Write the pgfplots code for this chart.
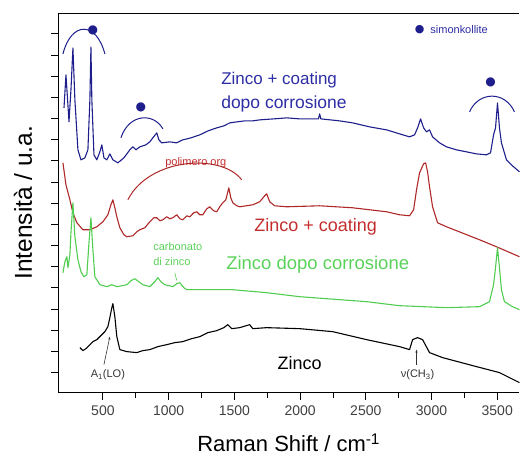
\documentclass[border=0pt]{standalone}
\usepackage{fontspec}
\setmainfont{Liberation Sans}
\newfontfamily\dejavu{DejaVu Sans}
\usepackage{pgfplots}
\pgfplotsset{compat=1.18}
\usetikzlibrary{arrows.meta}
\definecolor{cblue}{RGB}{30,30,140}
\definecolor{tblue}{RGB}{45,45,165}
\definecolor{cred}{RGB}{175,40,40}
\definecolor{tred}{RGB}{195,45,45}
\definecolor{cgreen}{RGB}{80,205,80}
\definecolor{tgreen}{RGB}{90,210,90}
\begin{document}
\begin{tikzpicture}
\begin{axis}[name=ax, scale only axis, width=462pt, height=380pt,
  xmin=158, xmax=3669, ymin=0, ymax=380, clip=false,
  axis x line*=box, axis y line*=left, axis line style={-, line width=0.8pt},
  xtick pos=bottom, ytick pos=left, tick align=outside,
  xtick={500,1000,...,3500}, minor x tick num=1,
  ytick={20,41.2,...,360}, yticklabels={},
  major tick length=7pt, minor tick length=5pt,
  tick style={line width=0.8pt, black},
  /pgf/number format/assume math mode=true,
  /pgf/number format/1000 sep={},
  xticklabel style={font=\fontsize{14}{16}\selectfont, text=black!75, yshift=-3pt},
  every axis plot/.append style={line width=1.1pt, line join=round},
]
% Zinco + coating dopo corrosione (blue)
\addplot[cblue] coordinates {
(204,285)(219,318)(234,288)(242,271)(257,303)(272,345)(287,293)(310,243)(333,233)(363,235)(386,243)(401,293)(409,346)(416,293)(432,238)(454,233)(477,241)(492,248)(508,235)(530,233)(553,239)(576,233)(614,230)(660,235)(705,243)(728,246)(751,243)(781,246)(827,248)(857,251)(880,255)(910,260)(926,253)(948,250)(1009,251)(1060,250)(1108,253)(1170,255)(1237,258)(1300,262)(1366,265)(1420,267)(1465,270)(1520,271)(1579,272)(1640,272)(1693,273)(1800,274)(1898,275)(1997,274)(2140,274)(2149,279)(2158,274)(2301,272)(2400,270)(2529,266)(2658,263)(2757,259)(2833,256)(2871,258)(2894,265)(2917,274)(2940,265)(2962,261)(2985,263)(3008,256)(3061,250)(3114,246)(3190,243)(3266,241)(3340,239)(3418,238)(3449,240)(3472,258)(3487,265)(3502,290)(3517,265)(3532,250)(3570,233)(3616,227)(3669,221)};
% Zinco + coating (red)
\addplot[cred] coordinates {
(196,230)(219,208)(249,193)(272,180)(302,170)(348,163)(401,163)(454,166)(500,171)(538,178)(561,188)(576,193)(591,185)(606,176)(629,165)(660,158)(682,156)(728,157)(758,161)(781,163)(819,165)(857,171)(888,175)(910,175)(933,172)(956,173)(986,176)(1009,174)(1032,175)(1062,178)(1085,174)(1108,173)(1138,177)(1161,176)(1191,180)(1214,181)(1237,178)(1260,178)(1290,184)(1313,186)(1343,182)(1366,181)(1389,186)(1412,190)(1435,193)(1458,205)(1473,195)(1488,190)(1519,187)(1541,186)(1640,188)(1693,191)(1731,197)(1746,199)(1769,191)(1807,187)(1898,186)(2149,187)(2400,185)(2658,181)(2757,178)(2833,177)(2864,183)(2886,203)(2909,220)(2940,229)(2955,230)(2970,221)(2985,206)(3008,186)(3046,170)(3114,166)(3365,153)(3494,146)(3669,136)};
% Zinco dopo corrosione (green)
\addplot[cgreen] coordinates {
(196,120)(211,131)(226,136)(234,125)(249,138)(257,160)(272,190)(287,156)(310,133)(333,121)(356,116)(378,118)(394,150)(409,175)(424,143)(439,116)(477,108)(530,106)(568,108)(606,106)(682,108)(713,112)(743,114)(773,111)(804,108)(857,106)(895,111)(918,115)(941,111)(971,108)(1032,106)(1062,109)(1085,110)(1116,105)(1138,103)(1366,103)(1488,103)(1746,100)(1997,96)(2506,91)(2757,87)(3114,85)(3365,86)(3441,91)(3472,108)(3487,125)(3502,145)(3517,125)(3532,103)(3555,91)(3616,86)(3669,83)};
% Zinco (black)
\addplot[black] coordinates {
(325,45)(348,42)(371,44)(386,46)(424,51)(454,53)(477,56)(515,61)(538,66)(553,75)(568,85)(576,89)(591,76)(606,56)(629,43)(682,41)(758,40)(804,42)(857,43)(918,46)(986,48)(1047,50)(1108,51)(1176,54)(1237,56)(1298,60)(1366,62)(1420,65)(1450,68)(1480,64)(1541,65)(1617,68)(1640,64)(1746,65)(1997,64)(2248,61)(2506,53)(2757,46)(2833,43)(2856,53)(2894,55)(2932,53)(2985,40)(3084,35)(3342,26)(3517,20)(3669,10)};
% annotations
\node[tblue, anchor=west, font=\fontsize{17}{20}\selectfont] at (axis cs:1374,313) {Zinco + coating};
\node[tblue, anchor=west, font=\fontsize{17.5}{20}\selectfont] at (axis cs:1374,289) {dopo corrosione};
\node[tred, font=\fontsize{18}{20}\selectfont] at (axis cs:2119,166) {Zinco + coating};
\node[tgreen, font=\fontsize{18.5}{20}\selectfont] at (axis cs:2134,128) {Zinco dopo corrosione};
\node[black, font=\fontsize{18}{20}\selectfont] at (axis cs:1997,30) {Zinco};
\node[tred, font=\fontsize{11}{13}\selectfont] at (axis cs:1207,230) {polimero org};
\node[tgreen, anchor=west, font=\fontsize{11}{13}\selectfont] at (axis cs:857,146) {carbonato};
\node[tgreen, anchor=west, font=\fontsize{11}{13}\selectfont] at (axis cs:857,131) {di zinco};
\node[black!80, font=\fontsize{11}{13}\selectfont] at (axis cs:538,18) {A\textsubscript{1}(LO)};
\node[black!80, font=\fontsize{11}{13}\selectfont] at (axis cs:2894,18) {ν(CH\textsubscript{3})};
\node[tblue, anchor=west, font=\fontsize{11}{13}\selectfont] at (axis cs:2965,363) {simonkollite};
\node[cblue, font=\dejavu\fontsize{11}{13}\selectfont] at (axis cs:2909,363) {●};
\node[cblue, font=\dejavu\fontsize{12}{13}\selectfont] at (axis cs:424,363) {●};
\node[cblue, font=\dejavu\fontsize{12}{13}\selectfont] at (axis cs:789,285) {●};
\node[cblue, font=\dejavu\fontsize{12}{13}\selectfont] at (axis cs:3449,311) {●};
\draw[cblue, line width=1pt] (axis cs:196,339) .. controls (axis cs:260,372) and (axis cs:450,372) .. (axis cs:515,339);
\draw[cblue, line width=1pt] (axis cs:637,255) .. controls (axis cs:700,280) and (axis cs:890,280) .. (axis cs:956,264);
\draw[cblue, line width=1pt] (axis cs:3289,281) .. controls (axis cs:3360,302) and (axis cs:3560,302) .. (axis cs:3631,281);
\draw[cred, line width=1pt] (axis cs:690,193) .. controls (axis cs:850,235) and (axis cs:1400,240) .. (axis cs:1556,213);
\draw[black!80, line width=0.6pt, -{Stealth[length=3pt]}] (axis cs:508,28) -- (axis cs:553,56);
\draw[black!80, line width=0.6pt, -{Stealth[length=3pt]}] (axis cs:2886,28) -- (axis cs:2886,43);
\draw[tgreen, line width=0.6pt, -{Stealth[length=2pt]}] (axis cs:1047,120) -- (axis cs:1062,112);
\end{axis}
\node[rotate=90, anchor=base, font=\fontsize{24.5}{28}\selectfont] at ([xshift=-26pt]ax.west) {Intensità / u.a.};
\node[anchor=base, font=\fontsize{22}{24}\selectfont] at ([yshift=-59pt]ax.south) {Raman Shift / cm\textsuperscript{-1}};
\path ([xshift=-58pt,yshift=-62pt]ax.south west) ([yshift=13pt]ax.north east);
\end{tikzpicture}
\end{document}
